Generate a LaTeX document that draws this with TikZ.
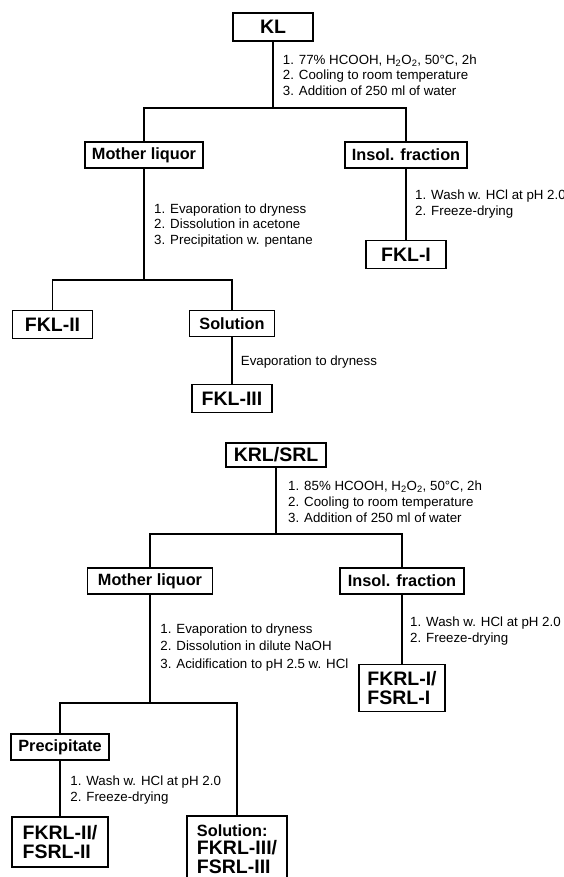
\documentclass[tikz,border=0pt]{standalone}
\usepackage{fontspec}
\setmainfont{Liberation Sans}
\tikzset{
  link/.style={line width=1.7pt},
  box/.style={draw, line width=1.7pt, inner ysep=3pt, align=left},
  product/.style={box, font=\bfseries\fontsize{19.5}{18.5}\selectfont, inner xsep=5pt, minimum width=80pt, minimum height=28pt},
  fraction/.style={box, font=\bfseries\fontsize{16.3}{17}\selectfont, inner xsep=7pt, minimum width=85pt, minimum height=26pt},
  note/.style={anchor=north west, inner sep=0pt, align=left, font=\fontsize{13.3}{15.6}\selectfont}
}
\begin{document}
\begin{tikzpicture}[x=1pt, y=-1pt]
\useasboundingbox (0,0) rectangle (564,877);

\node[product] (KL) at (273,27) {KL};
\coordinate (split1) at (273,108);
\node[fraction] (ML1) at (144,155) {Mother liquor};
\node[fraction] (IF1) at (406,155) {Insol. fraction};
\node[product] (FKL1) at (406,254.5) {FKL-I};
\coordinate (split2) at (144,280);
\node[product] (FKL2) at (52.5,324.5) {FKL-II};
\node[fraction] (Sol1) at (232,323.5) {Solution};
\node[product] (FKL3) at (232,398.5) {FKL-III};

\node[note] (T1) at (282.7,54.5) {1. 77\% HCOOH, H\textsubscript{2}O\textsubscript{2}, 50°C, 2h\\2. Cooling to room temperature\\3. Addition of 250 ml of water};
\node[note] (T2) at (154,203.5) {1. Evaporation to dryness\\2. Dissolution in acetone\\3. Precipitation w. pentane};
\node[note] (T3) at (415,190) {1. Wash w. HCl at pH 2.0\\2. Freeze-drying};
\node[note] (T4) at (240.7,356) {Evaporation to dryness};

\draw[link] (KL) -- (split1);
\draw[link] (ML1) |- (split1) -| (IF1);
\draw[link] (IF1) -- (FKL1);
\draw[link] (ML1) -- (split2);
\draw[link] (FKL2) |- (split2) -| (Sol1);
\draw[link] (Sol1) -- (FKL3);

\node[product, minimum width=100pt, minimum height=24pt] (KRL) at (276,455) {KRL/SRL};
\coordinate (split3) at (276,534.3);
\node[fraction, minimum width=125pt] (ML2) at (150,581) {Mother liquor};
\node[fraction, minimum width=124pt] (IF2) at (402,581) {Insol. fraction};
\node[product, minimum height=47pt, inner xsep=8pt] (FKRL1) at (402,688) {FKRL-I/\\FSRL-I};
\coordinate (split4) at (150,703.3);
\node[fraction] (Prec) at (60,747) {Precipitate};
\node[product, minimum width=96pt, minimum height=50pt, inner xsep=8pt] (FKRL2) at (60,842) {FKRL-II/\\FSRL-II};
\node[product, anchor=north, minimum width=100pt, minimum height=66pt, inner xsep=8pt] (Sol2) at (237,815) {{\fontsize{16.3}{17}\selectfont Solution:}\\FKRL-III/\\FSRL-III};

\node[note, font=\fontsize{13.3}{16}\selectfont] (T5) at (288,480.3) {1. 85\% HCOOH, H\textsubscript{2}O\textsubscript{2}, 50°C, 2h\\2. Cooling to room temperature\\3. Addition of 250 ml of water};
\node[note, font=\fontsize{13.3}{17.5}\selectfont] (T6) at (160.2,623.5) {1. Evaporation to dryness\\2. Dissolution in dilute NaOH\\3. Acidification to pH 2.5 w. HCl};
\node[note] (T7) at (410,617) {1. Wash w. HCl at pH 2.0\\2. Freeze-drying};
\node[note] (T8) at (70.2,776) {1. Wash w. HCl at pH 2.0\\2. Freeze-drying};

\draw[link] (KRL) -- (split3);
\draw[link] (ML2) |- (split3) -| (IF2);
\draw[link] (IF2) -- (FKRL1);
\draw[link] (ML2) -- (split4);
\draw[link] (Prec) |- (split4) -| (Sol2);
\draw[link] (Prec) -- (FKRL2);
\end{tikzpicture}
\end{document}
